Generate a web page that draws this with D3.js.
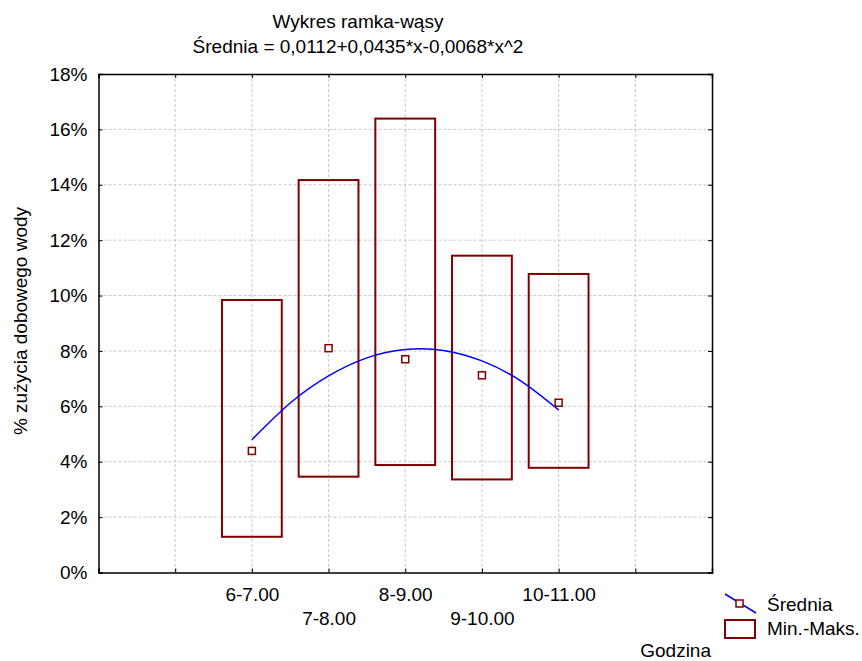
<!DOCTYPE html>
<html>
<head>
<meta charset="utf-8">
<script src="https://cdn.jsdelivr.net/npm/d3@7"></script>
<style>
    body { margin: 0; background: #fff; }
    svg text { font-family: "Liberation Sans", Arial, sans-serif; font-size: 19px; fill: #000; }
    .grid line { stroke: #c8c8c8; stroke-dasharray: 3,2; stroke-width: 1; }
    .axis path, .axis line { stroke: #000; }
    .axis path { stroke-width: 1.5; }
</style>
</head>
<body>
<svg id="chart" width="862" height="661"></svg>
<script>
// values (percent)
var categories = ["6-7.00", "7-8.00", "8-9.00", "9-10.00", "10-11.00"];
var minValues  = [1.29, 3.46, 3.88, 3.36, 3.78];
var maxValues  = [9.84, 14.17, 16.39, 11.44, 10.78];
var meanValues = [4.39, 8.10, 7.70, 7.12, 6.13];

// fitted mean curve (x = category number 1..5)
var trendX = [1, 1.5, 2, 2.5, 3, 3.5, 4, 4.5, 5];
var trendY = [4.79, 6.12, 7.10, 7.75, 8.05, 8.02, 7.64, 6.93, 5.87];

var yTicks = [0, 2, 4, 6, 8, 10, 12, 14, 16, 18];

var title1 = "Wykres ramka-wąsy";
var title2 = "Średnia = 0,0112+0,0435*x-0,0068*x^2";

// DRAW SVG
var margin = {left: 98.5, right: 150, top: 74, bottom: 88.5};
var width = 862 - margin.left - margin.right;
var height = 661 - margin.top - margin.bottom;

var svg = d3.select("#chart");
var g = svg.append("g").attr("transform", "translate(" + margin.left + "," + margin.top + ")");

// category i sits at position i+2 on a 0..8 axis
var x = d3.scaleLinear().domain([0, 8]).range([0, width]);
var y = d3.scaleLinear().domain([0, 18]).range([height, 0]);
var pos = function(i){ return i + 2; };
var halfBox = 0.39;

// grid
g.append("g").attr("class", "grid")
    .selectAll("line").data(yTicks.slice(1, -1)).join("line")
    .attr("x1", 0).attr("x2", width)
    .attr("y1", d => y(d)).attr("y2", d => y(d));
g.append("g").attr("class", "grid")
    .selectAll("line").data(d3.range(1, 8)).join("line")
    .attr("y1", 0).attr("y2", height)
    .attr("x1", d => x(d)).attr("x2", d => x(d));

// axes, ticks pointing inside
g.append("g").attr("class", "axis")
    .call(d3.axisLeft(y).tickValues(yTicks).tickSize(-4).tickPadding(11).tickFormat(d => d + "%"))
    .call(a => a.selectAll("text").attr("font-size", null));
g.append("g").attr("class", "axis")
    .attr("transform", "translate(" + width + ",0)")
    .call(d3.axisRight(y).tickValues(yTicks).tickSize(-4).tickFormat(""));
g.append("g").attr("class", "axis")
    .call(d3.axisTop(x).tickValues(d3.range(0, 9)).tickSize(-4).tickFormat(""));

var xAxis = g.append("g").attr("class", "axis x-axis")
    .attr("transform", "translate(0," + height + ")")
    .call(d3.axisBottom(x).tickValues(d3.range(0, 9)).tickSize(-4).tickPadding(15)
        .tickFormat(function(d){ var i = d - 2; return (i >= 0 && i < categories.length) ? categories[i] : ""; }));
xAxis.selectAll("text").attr("font-size", null)
    .attr("dy", function(d){ return ((d - 2) % 2 === 1) ? "1.95em" : "0.71em"; });

// boxes min - max
var boxes = categories.map(function(c, i){ return {cat: c, i: i, min: minValues[i], max: maxValues[i], mean: meanValues[i]}; });
g.append("g").selectAll("rect").data(boxes).join("rect")
    .attr("x", d => x(pos(d.i) - halfBox))
    .attr("width", d => x(pos(d.i) + halfBox) - x(pos(d.i) - halfBox))
    .attr("y", d => y(d.max))
    .attr("height", d => y(d.min) - y(d.max))
    .attr("fill", "none")
    .attr("stroke", "#800000")
    .attr("stroke-width", 2);

// trend line
var line = d3.line()
    .x((d, k) => x(trendX[k] + 1))
    .y(d => y(d))
    .curve(d3.curveNatural);
g.append("path").datum(trendY)
    .attr("d", line)
    .attr("fill", "none")
    .attr("stroke", "#0000ff")
    .attr("stroke-width", 1.5);

// means
g.append("g").selectAll("rect").data(boxes).join("rect")
    .attr("x", d => x(pos(d.i)) - 3.5)
    .attr("y", d => y(d.mean) - 3.5)
    .attr("width", 7).attr("height", 7)
    .attr("fill", "#fff")
    .attr("stroke", "#800000")
    .attr("stroke-width", 1.5);

// titles
svg.append("text").attr("x", 358).attr("y", 28).attr("text-anchor", "middle").text(title1);
svg.append("text").attr("x", 358).attr("y", 53).attr("text-anchor", "middle").text(title2);

svg.append("text")
    .attr("transform", "translate(27,321) rotate(-90)")
    .attr("text-anchor", "middle")
    .text("% zużycia dobowego wody");

svg.append("text").attr("x", 711).attr("y", 657).attr("text-anchor", "end").text("Godzina");

// legend
var legend = svg.append("g").attr("class", "legend");
legend.append("line")
    .attr("x1", 725).attr("y1", 594).attr("x2", 756).attr("y2", 613)
    .attr("stroke", "#0000ff").attr("stroke-width", 1.5);
legend.append("rect")
    .attr("x", 736).attr("y", 600).attr("width", 7).attr("height", 7)
    .attr("fill", "#fff").attr("stroke", "#800000").attr("stroke-width", 1.5);
legend.append("text").attr("x", 767).attr("y", 611).text("Średnia");
legend.append("rect")
    .attr("x", 725).attr("y", 620).attr("width", 30).attr("height", 18)
    .attr("fill", "none").attr("stroke", "#800000").attr("stroke-width", 2);
legend.append("text").attr("x", 767).attr("y", 635).text("Min.-Maks.");
</script>
</body>
</html>
